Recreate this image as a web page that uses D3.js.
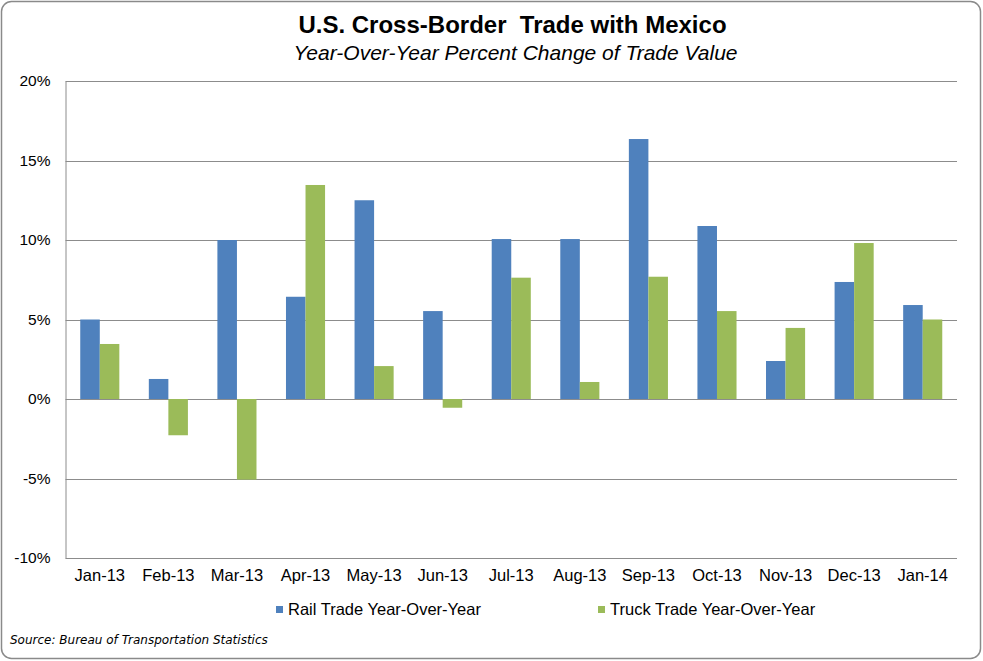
<!DOCTYPE html>
<html><head><meta charset="utf-8">
<script src="https://cdn.jsdelivr.net/npm/d3@7"></script>
<style>body{margin:0;background:#fff}svg{display:block}text{font-family:"Liberation Sans",Arial,sans-serif}</style>
</head><body><svg id="c" width="983" height="661"></svg>
<script>
const categories = ["Jan-13","Feb-13","Mar-13","Apr-13","May-13","Jun-13","Jul-13","Aug-13","Sep-13","Oct-13","Nov-13","Dec-13","Jan-14"];
const railValues = [5.0, 1.26, 10.0, 6.43, 12.5, 5.53, 10.06, 10.06, 16.35, 10.88, 2.39, 7.36, 5.91];
const truckValues = [3.46, -2.28, -5.07, 13.46, 2.07, -0.55, 7.63, 1.07, 7.69, 5.53, 4.47, 9.81, 5.0];
const yTicks = [-10, -5, 0, 5, 10, 15, 20];
const seriesNames = ["Rail Trade Year-Over-Year", "Truck Trade Year-Over-Year"];
const colors = ["#4F81BD", "#9BBB59"];

const svg = d3.select("#c");
svg.append("rect").attr("x",1.5).attr("y",1.5).attr("width",979).attr("height",657)
  .attr("rx",10).attr("fill","#fff").attr("stroke","#8a8a8a").attr("stroke-width",1.5);

const m = {left:65.5, right:957, top:81, bottom:558};
const x = d3.scaleBand().domain(categories).range([m.left, m.right]).paddingInner(0.43).paddingOuter(0.215);
const xs = d3.scaleBand().domain([0,1]).range([0, x.bandwidth()]);
const y = d3.scaleLinear().domain([-10,20]).range([m.bottom, m.top]);

// gridlines
svg.append("g").selectAll("line").data(yTicks).join("line")
  .attr("x1",m.left).attr("x2",m.right)
  .attr("y1",d=>Math.round(y(d))+0.5).attr("y2",d=>Math.round(y(d))+0.5)
  .attr("stroke","#8c8c8c").attr("stroke-width",1);

// y axis
const yAxis = d3.axisLeft(y).tickValues(yTicks).tickFormat(d=>d+"%").tickSize(0).tickPadding(15);
const ya = svg.append("g").attr("transform",`translate(${m.left},0)`).call(yAxis);
ya.select(".domain").attr("stroke","#8c8c8c");
ya.selectAll("text").attr("font-size",15.5).attr("fill","#000").style("font-family","'Liberation Sans',Arial,sans-serif");

// bars
const data = categories.map((c,i)=>({c, v:[railValues[i], truckValues[i]]}));
const g = svg.append("g");
data.forEach(d=>{
  d.v.forEach((v,k)=>{
    g.append("rect")
      .attr("x", x(d.c)+xs(k)).attr("width", xs.bandwidth())
      .attr("y", y(Math.max(0,v))).attr("height", Math.abs(y(v)-y(0)))
      .attr("fill", colors[k]);
  });
});

// x axis labels
const xAxis = d3.axisBottom(x).tickSize(0).tickPadding(0);
const xa = svg.append("g").attr("transform",`translate(0,${m.bottom})`).call(xAxis);
xa.select(".domain").remove();
xa.selectAll("text").attr("font-size",16.5).attr("fill","#000").attr("y",22.5).attr("dy",0)
  .style("font-family","'Liberation Sans',Arial,sans-serif");

// titles
svg.append("text").attr("x",512.5).attr("y",33).attr("text-anchor","middle")
  .attr("font-size",24).attr("font-weight","bold").style("white-space","pre").text("U.S. Cross-Border  Trade with Mexico");
svg.append("text").attr("x",515.5).attr("y",60).attr("text-anchor","middle")
  .attr("font-size",21).attr("font-style","italic").text("Year-Over-Year Percent Change of Trade Value");

// legend
const legX = [276, 598];
seriesNames.forEach((n,k)=>{
  svg.append("rect").attr("x",legX[k]).attr("y",606).attr("width",7).attr("height",7).attr("fill",colors[k]);
  svg.append("text").attr("x",legX[k]+12).attr("y",615).attr("font-size",16.5).text(n);
});

svg.append("text").attr("x",10).attr("y",644).attr("font-size",12).attr("font-style","italic")
  .style("font-family","'DejaVu Sans',Verdana,sans-serif").text("Source: Bureau of Transportation Statistics");
</script></body></html>
